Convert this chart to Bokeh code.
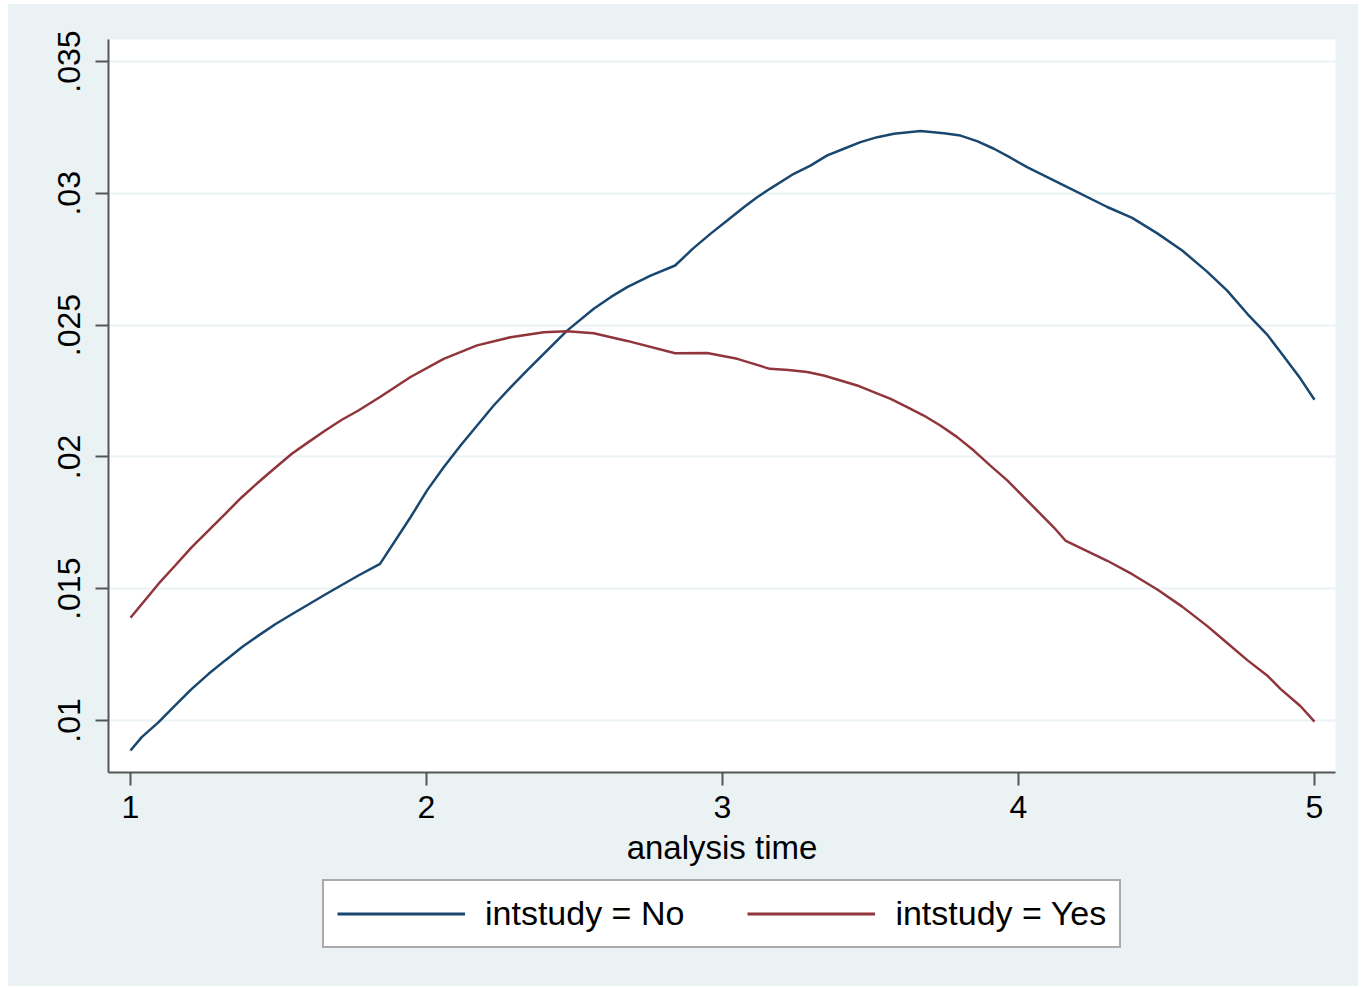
from bokeh.plotting import figure
from bokeh.layouts import column
from bokeh.models import FixedTicker, Legend, LegendItem, Range1d
from bokeh.embed import file_html
from bokeh.resources import INLINE

# ---- data ----
time_no = [1.000, 1.038, 1.095, 1.151, 1.207, 1.264, 1.320, 1.376, 1.432, 1.489,
           1.545, 1.601, 1.658, 1.714, 1.770, 1.843, 1.946, 2.002, 2.058, 2.115,
           2.171, 2.227, 2.284, 2.340, 2.396, 2.475, 2.565, 2.622, 2.678, 2.757,
           2.840, 2.900, 2.959, 3.016, 3.072, 3.117, 3.160, 3.241, 3.297, 3.354,
           3.410, 3.466, 3.523, 3.579, 3.669, 3.748, 3.804, 3.860, 3.917, 3.973,
           4.029, 4.085, 4.160, 4.300, 4.384, 4.469, 4.553, 4.637, 4.705, 4.773,
           4.840, 4.885, 4.953, 5.000]
hazard_no = [0.00886, 0.00937, 0.00994, 0.01057, 0.01120, 0.01177, 0.01228, 0.01278, 0.01322, 0.01365,
             0.01403, 0.01440, 0.01478, 0.01514, 0.01550, 0.01594, 0.01771, 0.01873, 0.01961, 0.02043,
             0.02119, 0.02195, 0.02264, 0.02328, 0.02391, 0.02479, 0.02562, 0.02606, 0.02644, 0.02688,
             0.02726, 0.02790, 0.02846, 0.02897, 0.02947, 0.02985, 0.03017, 0.03074, 0.03105, 0.03144,
             0.03169, 0.03194, 0.03213, 0.03226, 0.03236, 0.03228, 0.03219, 0.03198, 0.03169, 0.03135,
             0.03099, 0.03068, 0.03026, 0.02948, 0.02907, 0.02848, 0.02783, 0.02703, 0.02631, 0.02543,
             0.02464, 0.02398, 0.02296, 0.02217]

time_yes = [1.000, 1.095, 1.151, 1.207, 1.264, 1.320, 1.376, 1.432, 1.489, 1.545,
            1.601, 1.658, 1.714, 1.770, 1.843, 1.946, 2.058, 2.171, 2.284, 2.396,
            2.475, 2.565, 2.678, 2.840, 2.948, 3.050, 3.160, 3.223, 3.286, 3.342,
            3.399, 3.455, 3.511, 3.568, 3.624, 3.680, 3.736, 3.793, 3.849, 3.905,
            3.962, 4.018, 4.074, 4.119, 4.160, 4.300, 4.384, 4.469, 4.553, 4.637,
            4.705, 4.773, 4.840, 4.885, 4.953, 5.000]
hazard_yes = [0.01390, 0.01519, 0.01588, 0.01658, 0.01721, 0.01784, 0.01847, 0.01904, 0.01959, 0.02012,
              0.02056, 0.02100, 0.02141, 0.02176, 0.02227, 0.02303, 0.02372, 0.02423, 0.02454, 0.02473,
              0.02477, 0.02469, 0.02440, 0.02393, 0.02394, 0.02372, 0.02334, 0.02330, 0.02322, 0.02309,
              0.02290, 0.02271, 0.02246, 0.02220, 0.02189, 0.02157, 0.02119, 0.02075, 0.02024, 0.01967,
              0.01911, 0.01847, 0.01784, 0.01733, 0.01681, 0.01606, 0.01555, 0.01497, 0.01432, 0.01359,
              0.01294, 0.01229, 0.01171, 0.01120, 0.01054, 0.00996]

x_ticks = [1, 2, 3, 4, 5]
y_ticks = [0.01, 0.015, 0.02, 0.025, 0.03, 0.035]
y_tick_labels = [".01", ".015", ".02", ".025", ".03", ".035"]
series_labels = ["intstudy = No", "intstudy = Yes"]
x_title = "analysis time"

# ---- styling ----
BG = "#EAF2F3"
BLUE = "#1A476F"
RED = "#90353B"
AXIS = "#555555"
FONT = "Liberation Sans"

p = figure(frame_width=1227, frame_height=733, output_backend="svg", toolbar_location=None,
           x_range=Range1d(0.92568, 5.07095), y_range=Range1d(0.0080273, 0.0358345),
           min_border_left=100, min_border_right=23, min_border_top=35, min_border_bottom=100)
p.background_fill_color = "white"
p.border_fill_color = BG
p.outline_line_color = None

p.line(time_no, hazard_no, line_color=BLUE, line_width=2.5)
p.line(time_yes, hazard_yes, line_color=RED, line_width=2.5)

p.xaxis.ticker = FixedTicker(ticks=x_ticks)
p.yaxis.ticker = FixedTicker(ticks=y_ticks)
p.yaxis.major_label_overrides = {t: lab for t, lab in zip(y_ticks, y_tick_labels)}
p.yaxis.major_label_orientation = "vertical"

for ax in (p.xaxis[0], p.yaxis[0]):
    ax.axis_line_color = AXIS
    ax.axis_line_width = 2
    ax.major_tick_line_color = AXIS
    ax.major_tick_line_width = 2
    ax.major_tick_out = 13
    ax.major_tick_in = 0
    ax.minor_tick_line_color = None
    ax.major_label_text_font = FONT
    ax.major_label_text_font_size = "32px"
    ax.major_label_text_color = "black"
p.xaxis.major_label_standoff = 10
p.yaxis.major_label_standoff = 15

p.xaxis.axis_label = x_title
p.xaxis.axis_label_text_font = FONT
p.xaxis.axis_label_text_font_size = "33px"
p.xaxis.axis_label_text_font_style = "normal"
p.xaxis.axis_label_text_color = "black"
p.xaxis.axis_label_standoff = 8

p.xgrid.visible = False
p.ygrid.grid_line_color = BG
p.ygrid.grid_line_width = 2

# ---- legend strip below the plot (series drawn off-range; only their legend keys show) ----
p2 = figure(width=1350, height=114, output_backend="svg", toolbar_location=None,
            x_range=Range1d(-10, -9), y_range=Range1d(-10, -9),
            x_axis_location=None, y_axis_location=None,
            min_border_left=0, min_border_right=0, min_border_top=0, min_border_bottom=0)
p2.background_fill_color = BG
p2.border_fill_color = BG
p2.outline_line_color = None
p2.xgrid.visible = False
p2.ygrid.visible = False
k_no = p2.line(time_no, hazard_no, line_color=BLUE, line_width=3)
k_yes = p2.line(time_yes, hazard_yes, line_color=RED, line_width=3)

legend = Legend(items=[LegendItem(label=series_labels[0], renderers=[k_no]),
                       LegendItem(label=series_labels[1], renderers=[k_yes])],
                orientation="horizontal", location=(214, 38))
legend.border_line_color = AXIS
legend.border_line_width = 2
legend.background_fill_color = "white"
legend.background_fill_alpha = 1.0
legend.label_text_font = FONT
legend.label_text_font_size = "34px"
legend.label_text_color = "black"
legend.glyph_width = 128
legend.glyph_height = 39
legend.label_height = 39
legend.label_standoff = 20
legend.spacing = 63
legend.padding = 13
legend.margin = 0
p2.add_layout(legend, "center")

layout = column(p, p2, spacing=0)
layout.margin = (4, 0, 0, 8)
layout.styles = {"background-color": BG}
open("out.html", "w").write(file_html(layout, INLINE))
